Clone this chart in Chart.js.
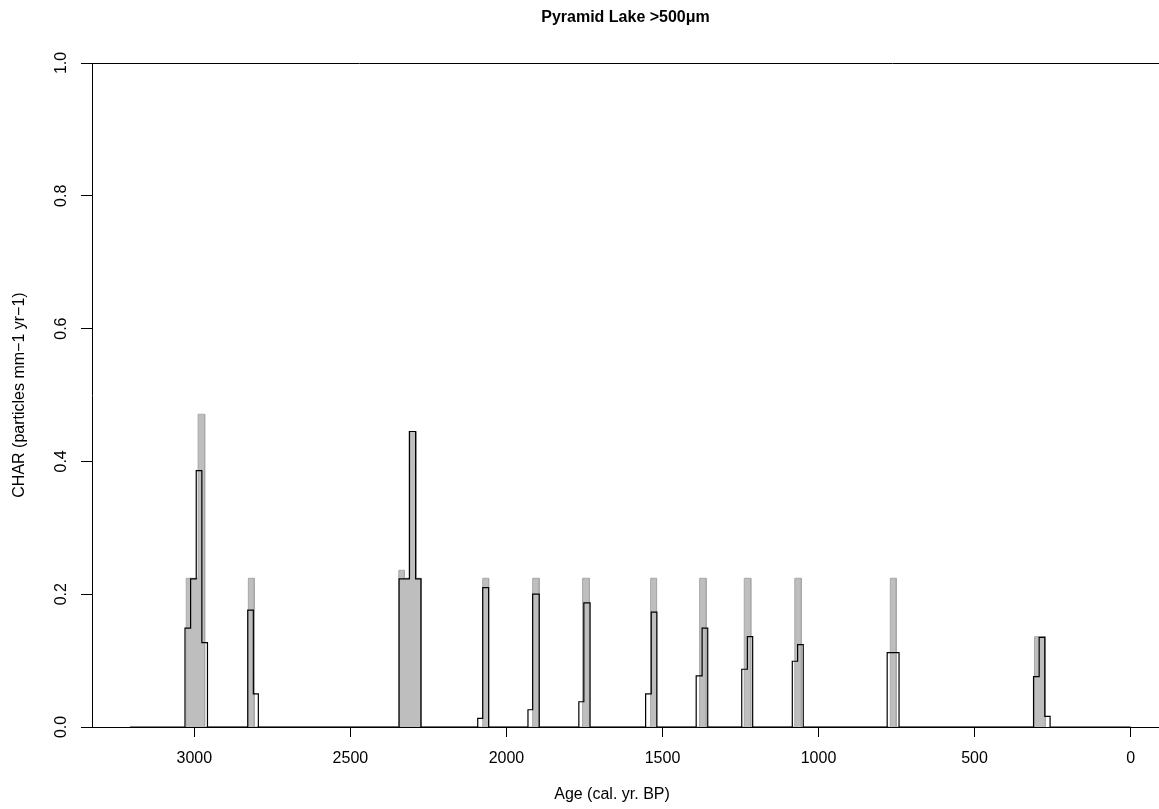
<!DOCTYPE html>
<html>
<head>
<meta charset="utf-8">
<title>Pyramid Lake >500μm</title>
<script src="https://cdn.jsdelivr.net/npm/chart.js"></script>
<style>
  html, body { margin: 0; padding: 0; background: #fff; }
  #wrap { width: 1159px; height: 809px; }
</style>
</head>
<body>
<div id="wrap"><canvas id="charChart" width="1159" height="809"></canvas></div>
<script>
// Binned CHAR series (black step line): each age starts a bin that runs
// toward younger ages until the next age in the list.
const binAges = [3206, 3030, 3012, 2994, 2976, 2958, 2829, 2811, 2795,
  2344, 2311, 2291, 2274, 2092, 2076, 2057, 1931, 1916, 1895,
  1768, 1752, 1732, 1554, 1536, 1518, 1392, 1373, 1355,
  1246, 1228, 1211, 1084, 1067, 1049, 780, 742, 311, 293, 275, 258, 0];
const binValues = [0, 0.149, 0.223, 0.386, 0.127, 0, 0.176, 0.050, 0,
  0.223, 0.445, 0.223, 0, 0.013, 0.210, 0, 0.026, 0.200, 0,
  0.038, 0.187, 0, 0.050, 0.173, 0, 0.077, 0.149, 0,
  0.087, 0.136, 0, 0.099, 0.124, 0, 0.112, 0, 0.076, 0.135, 0.016, 0, 0];

// Raw sample CHAR (grey bars), same layout
const sampleAges = [3026, 2988, 2967, 2827, 2808, 2345, 2327, 2308, 2290, 2273,
  2076, 2057, 1916, 1895, 1756, 1734, 1538, 1519, 1381, 1360,
  1238, 1217, 1076, 1055, 770, 751, 308, 273];
const sampleValues = [0.224, 0.471, 0, 0.224, 0, 0.236, 0.224, 0.445, 0.224, 0,
  0.224, 0, 0.224, 0, 0.224, 0, 0.224, 0, 0.224, 0,
  0.224, 0, 0.224, 0, 0.224, 0, 0.136, 0];

const xTicks = [3000, 2500, 2000, 1500, 1000, 500, 0];
const yTicks = [0, 0.2, 0.4, 0.6, 0.8, 1.0];

// turn (age, value) bin starts into corner points of a step outline
function stepPoints(ages, values) {
  const pts = [];
  let prev = 0;
  for (let i = 0; i < ages.length; i++) {
    pts.push({x: ages[i], y: prev});
    pts.push({x: ages[i], y: values[i]});
    prev = values[i];
  }
  return pts;
}

const FONT = 'Liberation Sans, Arial, Helvetica, sans-serif';

// title, axis titles and the rotated y tick labels
const labelsPlugin = {
  id: 'rLabels',
  afterDraw(chart) {
    const ctx = chart.ctx;
    const area = chart.chartArea;
    const yScale = chart.scales.y;
    ctx.save();
    ctx.fillStyle = '#000';
    ctx.textAlign = 'center';
    ctx.textBaseline = 'middle';

    ctx.font = 'bold 16px ' + FONT;
    ctx.fillText('Pyramid Lake >500μm', (area.left + area.right) / 2, 18);

    ctx.font = '16px ' + FONT;
    ctx.fillText('Age (cal. yr. BP)', 612, 795);

    ctx.save();
    ctx.translate(20, (area.top + area.bottom) / 2);
    ctx.rotate(-Math.PI / 2);
    ctx.fillText('CHAR (particles mm\u22121 yr\u22121)', 0, 0);
    ctx.restore();

    yTicks.forEach(v => {
      ctx.save();
      ctx.translate(62, yScale.getPixelForValue(v));
      ctx.rotate(-Math.PI / 2);
      ctx.fillText(v.toFixed(1), 0, 0);
      ctx.restore();
    });
    ctx.restore();
  }
};

new Chart(document.getElementById('charChart'), {
  type: 'line',
  data: {
    datasets: [
      {
        label: 'binned',
        data: stepPoints(binAges, binValues),
        borderColor: '#000',
        borderWidth: 1.2,
        pointRadius: 0,
        fill: false,
        tension: 0,
        order: 0
      },
      {
        label: 'samples',
        data: stepPoints(sampleAges, sampleValues),
        borderColor: '#a8a8a8',
        borderWidth: 1,
        backgroundColor: '#bebebe',
        pointRadius: 0,
        fill: 'origin',
        tension: 0,
        order: 1
      }
    ]
  },
  options: {
    responsive: false,
    animation: false,
    parsing: false,
    layout: { padding: { top: 63, left: 0, right: 0, bottom: 0 } },
    plugins: {
      legend: { display: false },
      title: { display: false },
      tooltip: { enabled: false }
    },
    scales: {
      x: {
        type: 'linear',
        reverse: true,
        min: -91,
        max: 3328,
        afterBuildTicks: scale => { scale.ticks = xTicks.map(v => ({value: v})); },
        afterFit: scale => { scale.height = 82; },
        border: { display: true, color: '#000', width: 1 },
        grid: {
          drawOnChartArea: false,
          drawTicks: true,
          tickLength: 10,
          color: '#000',
          tickColor: '#000'
        },
        ticks: {
          color: '#000',
          font: { family: FONT, size: 16 },
          padding: 12,
          maxRotation: 0,
          callback: v => String(v)
        }
      },
      y: {
        type: 'linear',
        min: 0,
        max: 1,
        afterBuildTicks: scale => { scale.ticks = yTicks.map(v => ({value: v})); },
        afterFit: scale => { scale.width = 92; },
        border: { display: true, color: '#000', width: 1 },
        grid: {
          drawTicks: true,
          tickLength: 11,
          color: c => (c.tick && (c.tick.value === 0 || c.tick.value === 1)) ? '#000' : 'rgba(0,0,0,0)',
          tickColor: '#000'
        },
        ticks: { display: false }
      }
    }
  },
  plugins: [labelsPlugin]
});
</script>
</body>
</html>
